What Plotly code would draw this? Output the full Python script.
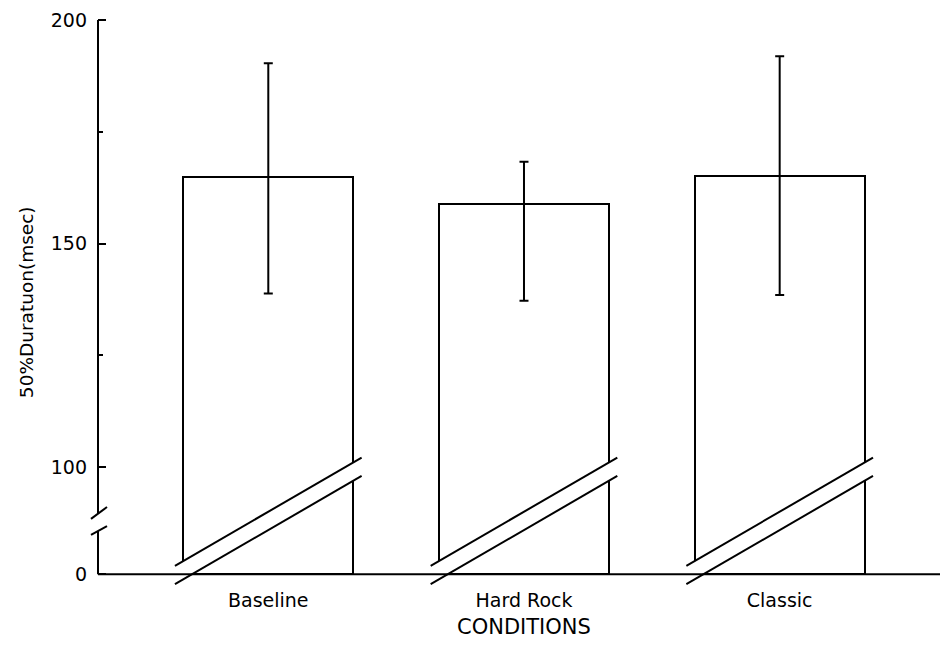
import plotly.graph_objects as go

# Mean 50% duration (msec) per listening condition, with SD whiskers
conditions = ["Baseline", "Hard Rock", "Classic"]
mean_ms = [164.8, 158.9, 165.2]
err_plus = [25.5, 9.4, 26.7]
err_minus = [26.0, 21.7, 26.7]

# Broken y axis: the value axis starts at AXIS_FLOOR, which is labelled "0"
AXIS_FLOOR = 76.0
tick_vals = [AXIS_FLOOR, 100, 150, 200]
tick_text = ["0", "100", "150", "200"]
minor_vals = [125, 175]

x_pos = list(range(len(conditions)))
BAR_W = 0.666
X_RANGE = [-0.666, 2.627]
Y_RANGE = [72.04, 200.45]

FONT = "DejaVu Sans"
INK = "black"

fig = go.Figure()
fig.add_trace(go.Bar(
    x=x_pos,
    y=[m - AXIS_FLOOR for m in mean_ms],
    base=AXIS_FLOOR,
    width=BAR_W,
    marker=dict(color="white", line=dict(color=INK, width=2)),
    error_y=dict(type="data", symmetric=False, array=err_plus, arrayminus=err_minus,
                 color=INK, thickness=2, width=4.5),
    showlegend=False,
    hoverinfo="skip",
))

shapes = []

# Break marks across the foot of every bar: a white band between two parallel slashes
band_half = BAR_W / 2 + 0.032
lo_left, lo_rise = AXIS_FLOOR - 2.2, 24.2
gap = 4.1
for c in x_pos:
    xa, xb = c - band_half, c + band_half
    ya0, yb0 = lo_left, lo_left + lo_rise
    ya1, yb1 = ya0 + gap, yb0 + gap
    shapes.append(dict(type="path", xref="x", yref="y",
                       path=f"M {xa},{ya0} L {xb},{yb0} L {xb},{yb1} L {xa},{ya1} Z",
                       fillcolor="white", line=dict(width=0), layer="above"))
    for y0, y1 in ((ya0, yb0), (ya1, yb1)):
        shapes.append(dict(type="line", xref="x", yref="y", x0=xa, y0=y0, x1=xb, y1=y1,
                           line=dict(color=INK, width=2), layer="above"))

# Horizontal axis line at the floor
shapes.append(dict(type="line", xref="paper", yref="y", x0=0, x1=1,
                   y0=AXIS_FLOOR, y1=AXIS_FLOOR, line=dict(color=INK, width=2), layer="above"))

# Vertical axis in two pieces with a break gap and slashes
gap_lo, gap_hi = 85.7, 89.6
for y0, y1 in ((AXIS_FLOOR, gap_lo), (gap_hi, 200)):
    shapes.append(dict(type="line", xref="paper", yref="y", x0=0, x1=0, y0=y0, y1=y1,
                       line=dict(color=INK, width=2), layer="above"))
for y0, y1 in ((84.8, 86.8), (88.4, 91.05)):
    shapes.append(dict(type="line", xref="paper", yref="y", xsizemode="pixel", xanchor=0,
                       x0=-7, x1=9, y0=y0, y1=y1, line=dict(color=INK, width=2), layer="above"))

fig.update_layout(
    width=942, height=652,
    margin=dict(l=98, r=2, t=18, b=60),
    paper_bgcolor="white", plot_bgcolor="white",
    font=dict(family=FONT, color=INK, size=19),
    bargap=0,
    shapes=shapes,
    annotations=[
        dict(text="CONDITIONS", xref="x", yref="paper", x=1, y=0, yshift=-35,
             yanchor="middle", xanchor="center", showarrow=False,
             font=dict(family=FONT, size=21, color=INK)),
        dict(text="50%Duratuon(msec)", xref="paper", yref="paper", x=0, xshift=-72,
             y=0.505, textangle=-90, xanchor="center", yanchor="middle", showarrow=False,
             font=dict(family=FONT, size=18.5, color=INK)),
    ],
    xaxis=dict(range=X_RANGE, tickvals=x_pos, ticktext=conditions, ticks="",
               showline=False, showgrid=False, zeroline=False, fixedrange=True,
               ticklabelstandoff=-5, tickfont=dict(size=19)),
    yaxis=dict(range=Y_RANGE, tickvals=tick_vals, ticktext=tick_text,
               ticks="inside", ticklen=8, tickwidth=2, tickcolor=INK,
               minor=dict(tickvals=minor_vals, ticks="inside", ticklen=5, tickwidth=2, tickcolor=INK),
               showline=False, showgrid=False, zeroline=False, fixedrange=True,
               ticklabelstandoff=10, tickfont=dict(size=19)),
)

fig.write_html("out.html")
